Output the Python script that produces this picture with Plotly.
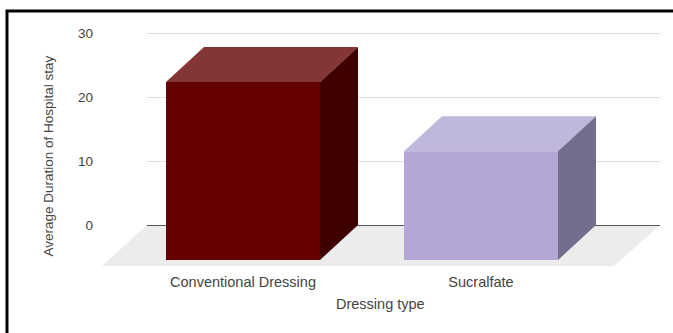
import plotly.graph_objects as go

categories = ["Conventional Dressing", "Sucralfate"]
stay_days = [27.8, 17.0]
front_colors = ["#650000", "#b4a7d6"]
top_colors = ["#843535", "#c0b7dd"]
side_colors = ["#3e0000", "#756d8d"]
y_ticks = [0, 10, 20, 30]

WIDTH, HEIGHT = 673, 333
L, R, T, B = 147, 660, 31, 266
ZERO_PX = 225
PX_PER_DAY = 6.4
PX_PER_CAT = 238
CAT0_PX = 243

x_range = [(L - CAT0_PX) / PX_PER_CAT, (R - CAT0_PX) / PX_PER_CAT]
y_range = [-(B - ZERO_PX) / PX_PER_DAY, (ZERO_PX - T) / PX_PER_DAY]
DEPTH_X = 38 / PX_PER_CAT
DEPTH_Y = 35 / PX_PER_DAY
HALF_BAR = 77 / PX_PER_CAT


def px_x(px):
    return (px - L) / (R - L)


def px_y(px):
    return (B - px) / (B - T)


def polygon(xs, ys, color):
    return go.Scatter(
        x=xs + xs[:1], y=ys + ys[:1], mode="lines", fill="toself",
        fillcolor=color, line=dict(width=0), hoverinfo="skip",
        showlegend=False, cliponaxis=False,
    )


fig = go.Figure()

# Each bar is three faces: top, right side, front
for i, value in enumerate(stay_days):
    left, right = i - HALF_BAR, i + HALF_BAR
    bottom, top = -DEPTH_Y, value - DEPTH_Y
    fig.add_trace(polygon(
        [left, right, right + DEPTH_X, left + DEPTH_X],
        [top, top, value, value], top_colors[i],
    ))
    fig.add_trace(polygon(
        [right, right + DEPTH_X, right + DEPTH_X, right],
        [top, value, 0, bottom], side_colors[i],
    ))
    fig.add_trace(polygon(
        [left, right, right, left],
        [bottom, bottom, top, top], front_colors[i],
    ))

text_color = "#444444"
font_family = "Liberation Sans, Arial, sans-serif"

# Floor of the 3D plot, in paper coordinates so it can run past the axes
floor_corners = [(147, 225), (660, 225), (614, 266), (102, 266)]
floor_path = "M " + " L ".join(f"{px_x(a):.4f} {px_y(b):.4f}" for a, b in floor_corners) + " Z"

fig.update_layout(
    width=WIDTH, height=HEIGHT,
    margin=dict(l=L, r=WIDTH - R, t=T, b=HEIGHT - B),
    paper_bgcolor="white", plot_bgcolor="rgba(0,0,0,0)",
    font=dict(family=font_family, color=text_color, size=13),
    xaxis=dict(
        range=x_range, tickmode="array", tickvals=list(range(len(categories))),
        ticktext=categories, showgrid=False, zeroline=False, showline=False,
        ticks="", tickfont=dict(size=14.5), ticklabelstandoff=5,
    ),
    yaxis=dict(
        range=y_range, tickmode="array", tickvals=y_ticks,
        gridcolor="#dedede", gridwidth=1, zeroline=True, zerolinecolor="#555555",
        zerolinewidth=1, showline=False, ticks="", tickfont=dict(size=13.5),
        ticklabelstandoff=53,
    ),
    annotations=[
        dict(text="Dressing type", x=px_x(380), y=px_y(314), xref="paper", yref="paper",
             showarrow=False, font=dict(size=14.5)),
        dict(text="Average Duration of Hospital stay", x=px_x(38), y=px_y(156),
             xref="paper", yref="paper", showarrow=False, textangle=-90,
             font=dict(size=13.5)),
    ],
    shapes=[
        dict(type="path", xref="paper", yref="paper", path=floor_path,
             fillcolor="#ececec", line=dict(width=0), layer="below"),
        dict(type="rect", xref="paper", yref="paper",
             x0=px_x(7), x1=px_x(WIDTH + 20), y0=px_y(11), y1=px_y(HEIGHT + 20),
             line=dict(color="black", width=3), layer="above"),
    ],
)

fig.write_html("out.html")
